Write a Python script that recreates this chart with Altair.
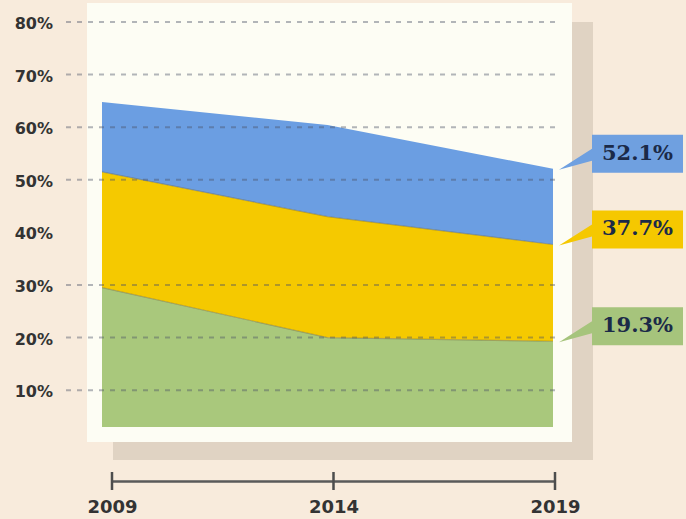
import altair as alt
import pandas as pd

# ---- data ----
years = [2009, 2014, 2019]
green_top = [29.5, 20.0, 19.3]
yellow_top = [51.5, 43.0, 37.7]
blue_top = [64.8, 60.4, 52.1]
series = ["green", "yellow", "blue"]
callout_labels = ["19.3%", "37.7%", "52.1%"]
grid_values = [10, 20, 30, 50, 60, 70, 80]
label_values = [10, 20, 30, 40, 50, 60, 70, 80]

# ---- styles ----
area_colors = ["#a9c87c", "#f5c900", "#6b9ee2"]
box_colors = ["#a6c47c", "#f5c800", "#6fa0e0"]
BG = "#f8ebdc"

rows = []
for i, yr in enumerate(years):
    rows.append(dict(year=yr, series="green", top=green_top[i], bottom=0))
    rows.append(dict(year=yr, series="yellow", top=yellow_top[i], bottom=green_top[i]))
    rows.append(dict(year=yr, series="blue", top=blue_top[i], bottom=yellow_top[i]))
area_df = pd.DataFrame(rows)

call_df = pd.DataFrame({
    "year": [years[-1]] * 3,
    "series": series,
    "value": [green_top[-1], yellow_top[-1], blue_top[-1]],
    "label": callout_labels,
})

yscale = alt.Scale(domain=[3, 80], nice=False, zero=False)
xscale_area = alt.Scale(domain=[2009, 2019], nice=False, zero=False)
xscale_axis = alt.Scale(domain=[2009, 2019], range=[10, 453], nice=False, zero=False)

one = pd.DataFrame({"k": [0]})

shadow = alt.Chart(one).mark_rect(color="#e0d3c3").encode(
    x=alt.value(11), x2=alt.value(491), y=alt.value(0), y2=alt.value(438)
)
panel = alt.Chart(one).mark_rect(color="#fdfdf4").encode(
    x=alt.value(-15), x2=alt.value(470), y=alt.value(-19), y2=alt.value(420)
)

areas = alt.Chart(area_df).mark_area(clip=True, opacity=1).encode(
    x=alt.X("year:Q", scale=xscale_area, axis=None),
    y=alt.Y("top:Q", scale=yscale, axis=None),
    y2="bottom:Q",
    color=alt.Color("series:N", scale=alt.Scale(domain=series, range=area_colors), legend=None),
)

edges = alt.Chart(area_df).transform_filter(
    alt.datum.series != "blue"
).mark_line(clip=True, strokeWidth=1.2, color="#6b6640", opacity=0.45).encode(
    x=alt.X("year:Q", scale=xscale_area, axis=None),
    y=alt.Y("top:Q", scale=yscale, axis=None),
    detail="series:N",
)

grid = alt.Chart(pd.DataFrame({"v": grid_values})).mark_rule(
    strokeDash=[5, 6], strokeWidth=2, color="#4a5064", opacity=0.42
).encode(
    y=alt.Y("v:Q", scale=yscale, axis=None),
    x=alt.value(-36),
    x2=alt.value(454),
)

ylabels = alt.Chart(pd.DataFrame({"v": label_values})).transform_calculate(
    lab="datum.v + '%'"
).mark_text(
    align="right", baseline="middle", dy=2,
    font="DejaVu Sans", fontWeight="bold", fontSize=16, color="#333333",
).encode(
    y=alt.Y("v:Q", scale=yscale, axis=None),
    x=alt.value(-49),
    text="lab:N",
)

xaxis = alt.Chart(pd.DataFrame({"year": years})).mark_rule(
    color="#4d4d4d", strokeWidth=2.5
).encode(
    x=alt.X(
        "year:Q",
        scale=xscale_axis,
        axis=alt.Axis(
            values=years,
            format="d",
            orient="bottom",
            offset=54,
            domain=True,
            domainColor="#5a5a5a",
            domainWidth=2.5,
            ticks=False,
            grid=False,
            labelFont="DejaVu Sans",
            labelFontWeight="bold",
            labelFontSize=18,
            labelColor="#333333",
            labelPadding=17,
            labelFlush=False,
            title=None,
        ),
    ),
    y=alt.value(450),
    y2=alt.value(468),
)

callout_path = "M0.06,0.01 L0.39,-0.2 L0.39,-0.34 L1.3,-0.34 L1.3,0.04 L0.39,0.04 L0.39,-0.08 Z"

boxes = alt.Chart(call_df).mark_point(
    shape=callout_path, size=40000, filled=True, opacity=1, strokeWidth=0
).encode(
    x=alt.X("year:Q", scale=xscale_area, axis=None),
    y=alt.Y("value:Q", scale=yscale, axis=None),
    color=alt.Color("series:N", scale=alt.Scale(domain=series, range=box_colors), legend=None),
)

texts = alt.Chart(call_df).mark_text(
    dx=84.5, dy=-15, align="center", baseline="middle",
    font="DejaVu Serif", fontWeight="bold", fontSize=21, color="#1b2a48",
).encode(
    x=alt.X("year:Q", scale=xscale_area, axis=None),
    y=alt.Y("value:Q", scale=yscale, axis=None),
    text="label:N",
)

chart = alt.layer(
    shadow, panel, areas, edges, grid, ylabels, xaxis, boxes, texts
).resolve_scale(
    x="independent", color="independent"
).properties(
    width=451,
    height=405,
    padding={"left": 102, "top": 22, "right": 133, "bottom": 92},
    autosize="none",
    background=BG,
).configure_view(stroke=None)

chart.save("out.html", embed_options={"renderer": "svg", "actions": False})
